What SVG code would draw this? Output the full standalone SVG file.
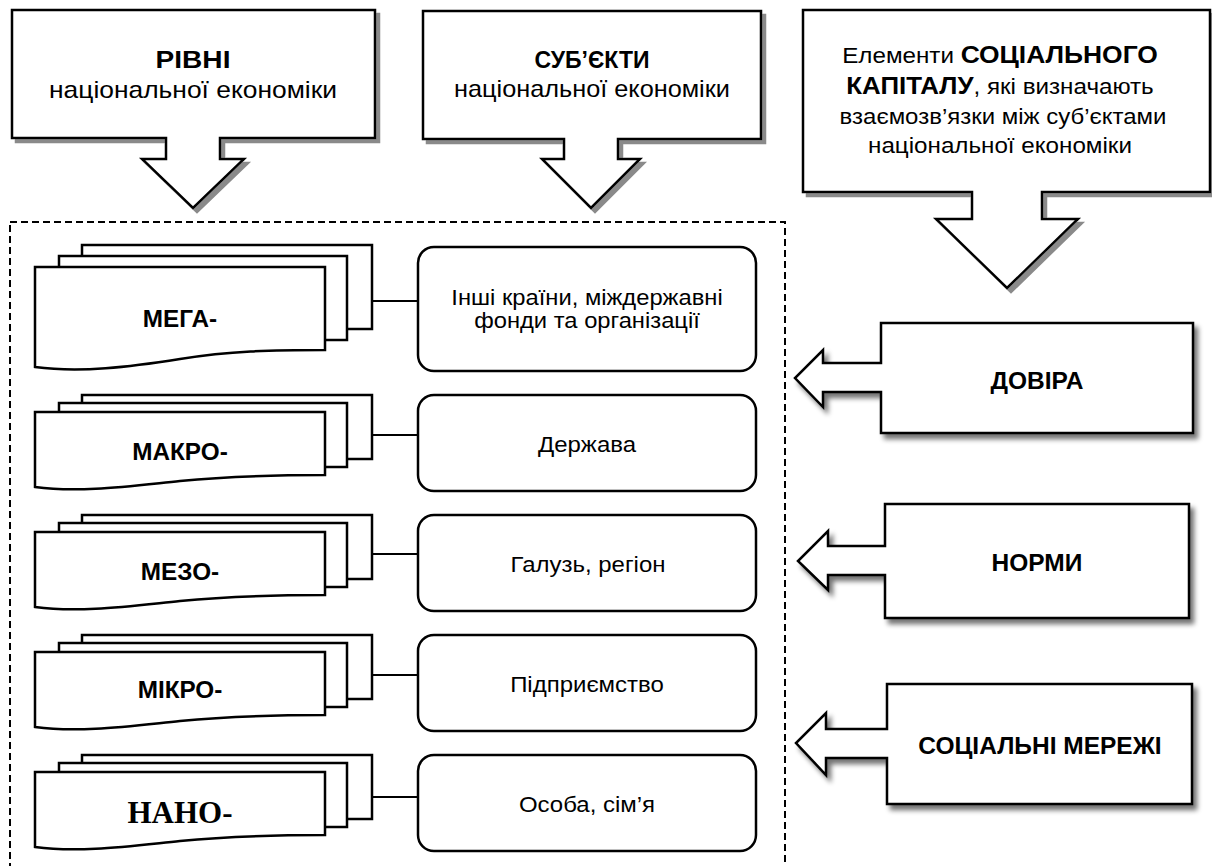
<svg xmlns="http://www.w3.org/2000/svg" width="1212" height="866" viewBox="0 0 1212 866">
<defs>
<style>
.ol{fill:#fff;stroke:#000;stroke-width:2.5;stroke-linejoin:miter}
.pg{fill:#fff;stroke:#000;stroke-width:2.5}
.rb{fill:#fff;stroke:#000;stroke-width:2.5}
.cn{stroke:#000;stroke-width:2;fill:none}
.t{font-family:"Liberation Sans",Arial,sans-serif;fill:#000;text-anchor:middle}
.r{font-size:22px}
.b{font-size:24.3px;font-weight:bold}
.e{font-size:24.5px;font-weight:bold}
.n{font-family:"Liberation Serif","Times New Roman",serif;font-size:31px;font-weight:bold;text-anchor:middle}
</style>
<filter id="hs" x="-5%" y="-5%" width="115%" height="115%">
<feFlood flood-color="#8a8a8a" result="f"/>
<feComposite in="f" in2="SourceAlpha" operator="in" result="s"/>
<feOffset in="s" dx="4" dy="4" result="o"/>
<feMerge><feMergeNode in="o"/><feMergeNode in="SourceGraphic"/></feMerge>
</filter>
<filter id="ss" x="-10%" y="-10%" width="125%" height="130%">
<feGaussianBlur in="SourceAlpha" stdDeviation="2.5" result="b"/>
<feOffset in="b" dx="4" dy="5" result="o"/>
<feComponentTransfer in="o" result="o2"><feFuncA type="linear" slope="0.55"/></feComponentTransfer>
<feMerge><feMergeNode in="o2"/><feMergeNode in="SourceGraphic"/></feMerge>
</filter>
</defs>
<rect width="1212" height="866" fill="#fff"/>

<rect id="frame" x="10" y="222" width="775" height="660" fill="none" stroke="#000" stroke-width="2" stroke-dasharray="7,4"/>

<g id="callout-levels">
<path class="ol" filter="url(#hs)" d="M12,10 H375 V138 H220 V159 H244 L193,208 L142,159 H166 V138 H12 Z"/>
<text class="t" font-size="24" font-weight="bold" transform="translate(193,68) scale(1.17,1)">РІВНІ</text>
<text class="t" font-size="24" transform="translate(193,98) scale(1.1,1)">національної економіки</text>
</g>

<g id="callout-subjects">
<path class="ol" filter="url(#hs)" d="M423,11 H761 V139 H618 V159 H640 L591,208 L542,159 H564 V139 H423 Z"/>
<text class="t" font-size="23" font-weight="bold" x="592" y="68">СУБ’ЄКТИ</text>
<text class="t" font-size="23" transform="translate(592,97) scale(1.1,1)">національної економіки</text>
</g>

<g id="callout-capital">
<path class="ol" filter="url(#hs)" d="M803,10 H1210 V192 H1042 V219 H1078 L1007,288 L936,219 H972 V192 H803 Z"/>
<text class="t" font-size="22" transform="translate(1000,63) scale(1.1,1)">Елементи <tspan font-weight="bold" font-size="24">СОЦІАЛЬНОГО</tspan></text>
<text class="t" font-size="22" transform="translate(1000,94) scale(1.1,1)"><tspan font-weight="bold" font-size="23.5">КАПІТАЛУ</tspan>, які визначають</text>
<text class="t" font-size="22" transform="translate(1003,124) scale(1.09,1)">взаємозв’язки між суб’єктами</text>
<text class="t" font-size="22" transform="translate(1000,153) scale(1.1,1)">національної економіки</text>
</g>

<g id="connectors">
<line class="cn" x1="372" y1="301" x2="418" y2="301"/>
<line class="cn" x1="372" y1="435" x2="418" y2="435"/>
<line class="cn" x1="372" y1="554" x2="418" y2="554"/>
<line class="cn" x1="372" y1="675" x2="418" y2="675"/>
<line class="cn" x1="372" y1="797" x2="418" y2="797"/>
</g>

<g id="level-mega">
<rect class="pg" x="82" y="245" width="290" height="84"/>
<rect class="pg" x="59" y="256" width="288" height="84"/>
<path class="pg" d="M35,367 V267 H325 V350 C270,350 230,351 180,359 S80,373 35,367 Z"/>
<text class="t b" x="180" y="327">МЕГА-</text>
</g>

<g id="level-makro">
<rect class="pg" x="82" y="395" width="290" height="64"/>
<rect class="pg" x="59" y="403" width="288" height="64"/>
<path class="pg" d="M35,487 V412 H325 V475 C270,475 230,476 180,481 S80,493 35,487 Z"/>
<text class="t b" x="180" y="460">МАКРО-</text>
</g>

<g id="level-mezo">
<rect class="pg" x="82" y="515" width="290" height="64"/>
<rect class="pg" x="59" y="523" width="288" height="64"/>
<path class="pg" d="M35,607 V532 H325 V595 C270,595 230,596 180,601 S80,613 35,607 Z"/>
<text class="t b" x="180" y="580">МЕЗО-</text>
</g>

<g id="level-mikro">
<rect class="pg" x="82" y="635" width="290" height="64"/>
<rect class="pg" x="59" y="643" width="288" height="64"/>
<path class="pg" d="M35,727 V652 H325 V715 C270,715 230,716 180,721 S80,733 35,727 Z"/>
<text class="t b" x="180" y="698">МІКРО-</text>
</g>

<g id="level-nano">
<rect class="pg" x="82" y="755" width="290" height="64"/>
<rect class="pg" x="59" y="763" width="288" height="64"/>
<path class="pg" d="M35,847 V772 H325 V835 C270,835 230,836 180,841 S80,853 35,847 Z"/>
<text class="n" x="180" y="823">НАНО-</text>
</g>

<g id="subject-1">
<rect class="rb" x="418" y="247" width="338" height="124" rx="16"/>
<text class="t r" transform="translate(587,305) scale(1.08,1)">Інші країни, міждержавні</text>
<text class="t r" transform="translate(587,328) scale(1.08,1)">фонди та організації</text>
</g>
<g id="subject-2">
<rect class="rb" x="418" y="395" width="338" height="96" rx="16"/>
<text class="t r" transform="translate(587,452) scale(1.09,1)">Держава</text>
</g>
<g id="subject-3">
<rect class="rb" x="418" y="515" width="338" height="96" rx="16"/>
<text class="t r" transform="translate(588,572) scale(1.09,1)">Галузь, регіон</text>
</g>
<g id="subject-4">
<rect class="rb" x="418" y="635" width="338" height="96" rx="16"/>
<text class="t r" transform="translate(587,692) scale(1.09,1)">Підприємство</text>
</g>
<g id="subject-5">
<rect class="rb" x="418" y="755" width="338" height="96" rx="16"/>
<text class="t r" transform="translate(587,812) scale(1.09,1)">Особа, сім’я</text>
</g>

<g id="element-trust">
<path class="ol" filter="url(#ss)" d="M1193,323 V433 H881 V392 H823 V407 L795,378 L823,350 V363 H881 V323 Z"/>
<text class="t e" x="1037" y="389">ДОВІРА</text>
</g>
<g id="element-norms">
<path class="ol" filter="url(#ss)" d="M1189,504 V618 H885 V575 H828 V590 L798,561 L828,531 V546 H885 V504 Z"/>
<text class="t e" x="1037" y="571">НОРМИ</text>
</g>
<g id="element-networks">
<path class="ol" filter="url(#ss)" d="M1192,684 V804 H887 V758 H826 V775 L796,743 L826,713 V729 H887 V684 Z"/>
<text class="t e" x="1040" y="754">СОЦІАЛЬНІ МЕРЕЖІ</text>
</g>
</svg>
